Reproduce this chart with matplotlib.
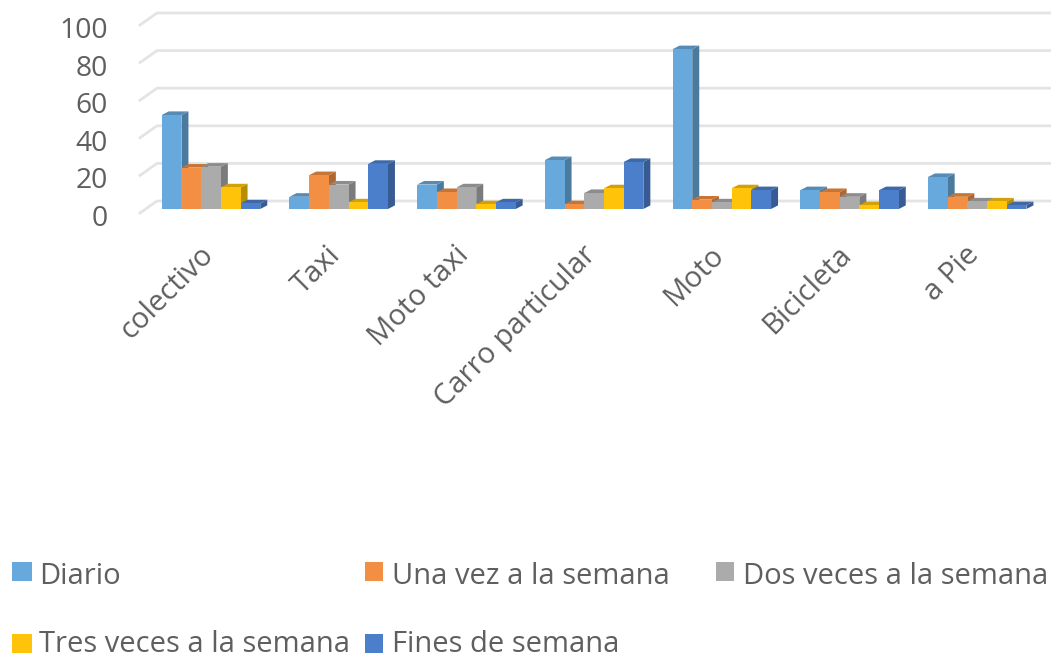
import matplotlib
matplotlib.use('Agg')
import matplotlib.pyplot as plt
from matplotlib.patches import Rectangle
from matplotlib.colors import to_rgb

categorias = ['colectivo', 'Taxi', 'Moto taxi', 'Carro particular', 'Moto', 'Bicicleta', 'a Pie']
diario = [50, 6.5, 13, 26, 85, 10, 17]
una_vez = [22, 18, 9, 2.5, 5, 9, 6.5]
dos_veces = [22.5, 13, 11.5, 8.5, 3.5, 6.5, 4]
tres_veces = [11.5, 3.5, 2.5, 11, 11, 2, 4]
fines = [3, 24, 3.5, 25, 10, 10, 2]
y_ticks = [0, 20, 40, 60, 80, 100]

series = [diario, una_vez, dos_veces, tres_veces, fines]
nombres = ['Diario', 'Una vez a la semana', 'Dos veces a la semana',
           'Tres veces a la semana', 'Fines de semana']
colores = ['#68A9DD', '#F28F42', '#ABABAB', '#FFC409', '#4C7FCB']
leg_pos = [(12, 572), (365, 572), (716, 572), (12, 644), (365, 644)]
leg_ancho = [20, 18, 18, 20, 18]
leg_texto_y = [577, 577, 577, 645, 645]

W, H = 1051, 661
PX_X = 127.7  # pixels per category
PX_Y = 1.88   # pixels per unit
X0 = 211      # pixel center of the first group
Y0 = 209      # pixel row of value 0 on the bar plane
BAR = 19.7 / PX_X
DX, DY = 7 / PX_X, 3.6 / PX_Y     # bar depth
BACK_X, BACK_Y = 157, 201         # back wall corner
FRONT_X, FRONT_Y = 140, 213       # front edge of the floor
GRIS = '#5F5F5F'


def sombra(color, f):
    return tuple(c * f for c in to_rgb(color))


fig = plt.figure(figsize=(W / 100, H / 100), dpi=100)
plt.rcParams['font.family'] = ['Open Sans', 'DejaVu Sans']

left, right = BACK_X - 17, W
top = 0
ax = fig.add_axes([left / W, 1 - Y0 / H, (right - left) / W, (Y0 - top) / H])
ax.set_xlim((left - X0) / PX_X, (right - X0) / PX_X)
ax.set_ylim(0, Y0 / PX_Y)
ax.axis('off')

back_x = (BACK_X - X0) / PX_X
front_x = (FRONT_X - X0) / PX_X
back_dy = (Y0 - BACK_Y) / PX_Y
front_dy = (Y0 - FRONT_Y) / PX_Y
for v in y_ticks:
    ax.plot([front_x, back_x, ax.get_xlim()[1]], [v + front_dy, v + back_dy, v + back_dy],
            color='#E4E4E4', lw=2.0, zorder=1, clip_on=False, solid_joinstyle='round')
    ax.annotate(str(v), xy=(front_x, v + front_dy), xytext=(-32, -6), textcoords='offset pixels',
                ha='right', va='center', fontsize=20.3, color=GRIS, annotation_clip=False)

for s, (vals, col) in enumerate(zip(series, colores)):
    xs = [i + (s - 2) * BAR for i in range(len(categorias))]
    z = 3 + s
    ax.bar(xs, vals, width=BAR, color=col, zorder=z + 0.5, linewidth=0)
    for x, v in zip(xs, vals):
        r = x + BAR / 2
        l = x - BAR / 2
        ax.fill([r, r + DX, r + DX, r], [0, DY, v + DY, v], color=sombra(col, 0.72), lw=0, zorder=z)
        ax.fill([l, l + DX, r + DX, r], [v, v + DY, v + DY, v], color=sombra(col, 0.82), lw=0, zorder=z)

for i, nombre in enumerate(categorias):
    ax.annotate(nombre, xy=(i, 0), xytext=(-2, -42), textcoords='offset pixels',
                rotation=45, rotation_mode='anchor', ha='right', va='center',
                fontsize=21, color=GRIS, annotation_clip=False)

for nombre, col, (px, py), ancho, ty in zip(nombres, colores, leg_pos, leg_ancho, leg_texto_y):
    fig.add_artist(Rectangle((px / W, 1 - (py + 9) / H), ancho / W, 19 / H, color=col,
                             lw=0, transform=fig.transFigure))
    fig.text((px + 27) / W, 1 - ty / H, nombre, ha='left', va='center',
             fontsize=21, color=GRIS)

fig.savefig('out.png', dpi=100)
